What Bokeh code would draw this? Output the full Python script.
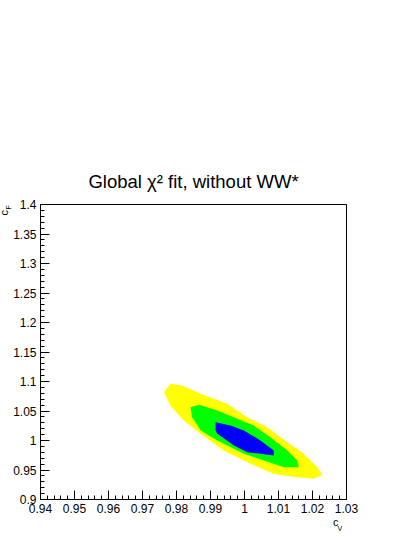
import math
from bokeh.plotting import figure
from bokeh.models import FixedTicker, CustomJSTickFormatter, Range1d, LinearAxis
from bokeh.embed import file_html
from bokeh.resources import INLINE

# ---- data ----
title_text = "Global \u03c7\u00b2 fit, without WW*"
x_ticks = [0.94, 0.95, 0.96, 0.97, 0.98, 0.99, 1.00, 1.01, 1.02, 1.03]
y_ticks = [0.90, 0.95, 1.00, 1.05, 1.10, 1.15, 1.20, 1.25, 1.30, 1.35, 1.40]
x_title = ["c", "V"]          # c_V
x_title_pos = [1.02685, 1.02803]
y_title = ["c", "F"]          # c_F
y_title_pos = [1.3814, 1.3915]

# 95% (yellow) contour
yellow_x = [0.9763, 0.9782, 0.9817, 0.9871, 0.9949, 1.0008, 1.0067, 1.0126, 1.0174,
            1.0214, 1.0229, 1.0204, 1.0135, 1.0086, 1.0018, 0.9939, 0.9871, 0.9821, 0.9782]
yellow_y = [1.0819, 1.0961, 1.0932, 1.0792, 1.0622, 1.0395, 1.0225, 0.9971, 0.9775,
            0.9547, 0.9424, 0.9351, 0.9390, 0.9436, 0.9605, 0.9831, 1.0114, 1.0339, 1.0593]
# 68% (green) contour
green_x = [0.9841, 0.9866, 0.9920, 0.9979, 1.0027, 1.0076, 1.0126, 1.0155, 1.0160,
           1.0116, 1.0057, 0.9998, 0.9920, 0.9871, 0.9846]
green_y = [1.0564, 1.0605, 1.0508, 1.0368, 1.0254, 1.0056, 0.9831, 0.9661, 0.9547,
           0.9547, 0.9661, 0.9775, 1.0000, 1.0169, 1.0395]
# inner (blue) contour
blue_x = [0.9915, 0.9959, 0.9998, 1.0047, 1.0086, 1.0086, 1.0047, 1.0008, 0.9969, 0.9920, 0.9915]
blue_y = [1.0310, 1.0254, 1.0169, 1.0000, 0.9831, 0.9746, 0.9775, 0.9802, 0.9915, 1.0114, 1.0169]

FONT = "Liberation Sans"

p = figure(width=412, height=537, output_backend="svg", toolbar_location=None,
           x_range=Range1d(x_ticks[0], x_ticks[-1]), y_range=Range1d(y_ticks[0], y_ticks[-1]),
           min_border_left=40, min_border_right=66, min_border_top=204, min_border_bottom=38)
p.frame_width = 306
p.frame_height = 295
p.background_fill_color = "white"
p.border_fill_color = "white"
p.outline_line_color = "black"
p.outline_line_width = 1
p.grid.visible = False

p.title.text = title_text
p.title.align = "center"
p.title.offset = -4
p.title.text_font = FONT
p.title.text_font_size = "18.5px"
p.title.text_font_style = "normal"
p.title.text_color = "black"
p.title.standoff = 26

p.patch(yellow_x, yellow_y, fill_color="#ffff00", line_color=None)
p.patch(green_x, green_y, fill_color="#00ff00", line_color=None)
p.patch(blue_x, blue_y, fill_color="#0000ff", line_color=None)

x_minor = [x_ticks[0] + 0.002 * i for i in range(int(round((x_ticks[-1] - x_ticks[0]) / 0.002)) + 1)]
y_minor = [y_ticks[0] + 0.01 * i for i in range(int(round((y_ticks[-1] - y_ticks[0]) / 0.01)) + 1)]

fmt = CustomJSTickFormatter(code="return tick.toFixed(2).replace(/0+$/,'').replace(/\\.$/,'');")

xa = p.xaxis[0]
xa.ticker = FixedTicker(ticks=x_ticks, minor_ticks=x_minor)
xa.formatter = fmt
ya = p.yaxis[0]
ya.ticker = FixedTicker(ticks=y_ticks, minor_ticks=y_minor)
ya.formatter = fmt
for ax in (xa, ya):
    ax.major_tick_out = 0
    ax.minor_tick_out = 0
    ax.axis_line_color = "black"
    ax.major_tick_line_color = "black"
    ax.minor_tick_line_color = "black"
    ax.major_label_text_font = FONT
    ax.major_label_text_font_size = "12px"
    ax.major_label_text_color = "black"
    ax.major_label_standoff = 4
xa.major_tick_in = 9
xa.minor_tick_in = 4
ya.major_tick_in = 9
ya.minor_tick_in = 4


def title_axis(pos, txt, size, standoff, orientation="horizontal"):
    ax = LinearAxis(ticker=FixedTicker(ticks=[pos], minor_ticks=[]),
                    major_label_overrides={pos: txt},
                    axis_line_color=None, major_tick_line_color=None,
                    minor_tick_line_color=None, major_tick_in=0, major_tick_out=0,
                    minor_tick_in=0, minor_tick_out=0,
                    major_label_standoff=standoff,
                    major_label_orientation=orientation,
                    major_label_text_font=FONT, major_label_text_font_size=size,
                    major_label_text_color="black")
    return ax


# x-axis title c_V: "c" then subscript "V"
p.add_layout(title_axis(x_title_pos[0], x_title[0], "11px", 0), "below")
p.add_layout(title_axis(x_title_pos[1], x_title[1], "7px", -6), "below")
# y-axis title c_F (reading upwards), drawn from the right-hand panel so the
# left margin keeps only the tick labels
p.add_layout(title_axis(y_title_pos[0], y_title[0], "11px", -342, math.pi / 2), "right")
p.add_layout(title_axis(y_title_pos[1], y_title[1], "7px", -338, math.pi / 2), "right")

open("out.html", "w").write(file_html(p, INLINE))
